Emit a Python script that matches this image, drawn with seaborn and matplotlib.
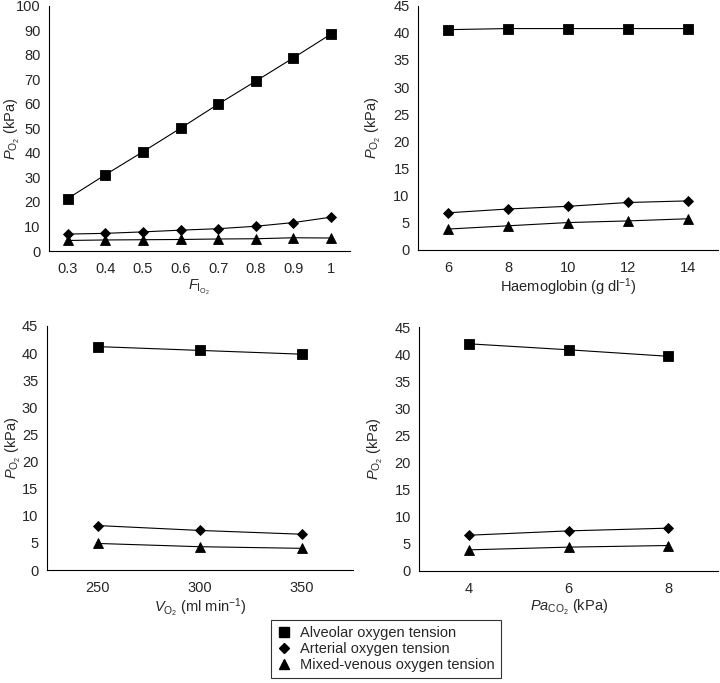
import matplotlib
matplotlib.use("Agg")
import matplotlib.pyplot as plt
from matplotlib.lines import Line2D
import seaborn as sns
import numpy as np

# panel data
fio2 = ["0.3", "0.4", "0.5", "0.6", "0.7", "0.8", "0.9", "1"]
fio2_alv = [21.4, 31.1, 40.5, 50.1, 59.9, 69.3, 78.8, 88.5]
fio2_art = [6.9, 7.2, 7.8, 8.5, 9.1, 10.1, 11.6, 13.8]
fio2_mv = [4.3, 4.5, 4.6, 4.7, 4.9, 5.0, 5.4, 5.3]

hb = ["6", "8", "10", "12", "14"]
hb_alv = [40.6, 40.8, 40.8, 40.8, 40.8]
hb_art = [6.8, 7.5, 8.0, 8.7, 9.0]
hb_mv = [3.8, 4.4, 5.0, 5.3, 5.7]

vo2 = ["250", "300", "350"]
vo2_alv = [41.2, 40.5, 39.8]
vo2_art = [8.2, 7.3, 6.6]
vo2_mv = [4.9, 4.3, 4.0]

paco2 = ["4", "6", "8"]
paco2_alv = [41.9, 40.8, 39.6]
paco2_art = [6.6, 7.4, 7.9]
paco2_mv = [3.9, 4.4, 4.7]

series_names = ["Alveolar oxygen tension", "Arterial oxygen tension",
                "Mixed-venous oxygen tension"]
markers = ["s", "D", "^"]
msizes = [7.5, 5.5, 7.5]

sns.set_style("white")
plt.rcParams["font.family"] = ["Liberation Sans", "DejaVu Sans"]
plt.rcParams["mathtext.fontset"] = "custom"
plt.rcParams["mathtext.rm"] = "Liberation Sans"
plt.rcParams["mathtext.it"] = "Liberation Sans:italic"
plt.rcParams["font.size"] = 10.5

fig = plt.figure(figsize=(7.2, 6.83), dpi=100)

# rect, categories, series, x label, y max, y step, y-label x position
panels = [
    ([0.068, 0.6325, 0.418, 0.359], fio2, [fio2_alv, fio2_art, fio2_mv],
     r"$F_{\mathrm{I_{O_2}}}$", 100, 10, -0.088),
    ([0.5806, 0.6345, 0.417, 0.357], hb, [hb_alv, hb_art, hb_mv],
     r"Haemoglobin (g dl$^{-1}$)", 45, 5, -0.117),
    ([0.0648, 0.1654, 0.4255, 0.3573], vo2, [vo2_alv, vo2_art, vo2_mv],
     r"$V_{\mathrm{O_2}}$ (ml min$^{-1}$)", 45, 5, -0.078),
    ([0.5824, 0.164, 0.415, 0.3572], paco2, [paco2_alv, paco2_art, paco2_mv],
     r"$Pa_{\mathrm{CO_2}}$ (kPa)", 45, 5, -0.114),
]

for rect, cats, vals, xlabel, ymax, ystep, ylx in panels:
    ax = fig.add_axes(rect)
    for v, m, ms in zip(vals, markers, msizes):
        sns.pointplot(x=cats, y=v, color="black", marker=m, markersize=ms,
                      linewidth=0.8, ax=ax, order=cats)
    n = len(cats)
    ax.set_xlim(-0.5, n - 0.5)
    ax.set_ylim(0, ymax)
    ax.set_yticks(np.arange(0, ymax + 1, ystep))
    ax.set_xticks(np.arange(-0.5, n, 1), minor=True)
    ax.tick_params(axis="x", which="major", length=0, pad=8, labelsize=10.5)
    ax.tick_params(axis="x", which="minor", length=3, width=0.8, color="black")
    ax.tick_params(axis="y", length=3, width=0.8, color="black", pad=3,
                   labelsize=10.5)
    ax.set_xlabel(xlabel, fontsize=10.5, labelpad=1)
    ax.set_ylabel(r"$P_{\mathrm{O_2}}$ (kPa)", fontsize=10.5)
    ax.yaxis.set_label_coords(ylx, 0.5)
    for side in ["top", "right"]:
        ax.spines[side].set_visible(False)
    for side in ["left", "bottom"]:
        ax.spines[side].set_color("black")
        ax.spines[side].set_linewidth(0.8)

handles = [Line2D([], [], color="black", marker=m, linestyle="none",
                  markersize=s * 0.9) for m, s in zip(markers, msizes)]
leg = fig.legend(handles, series_names, loc="center",
                 bbox_to_anchor=(0.536, 0.05), frameon=True, fancybox=False,
                 edgecolor="black", fontsize=10.5, handlelength=1.0,
                 handletextpad=0.6, labelspacing=0.15, borderpad=0.4)
leg.get_frame().set_linewidth(0.8)

fig.savefig("out.png", dpi=100)
